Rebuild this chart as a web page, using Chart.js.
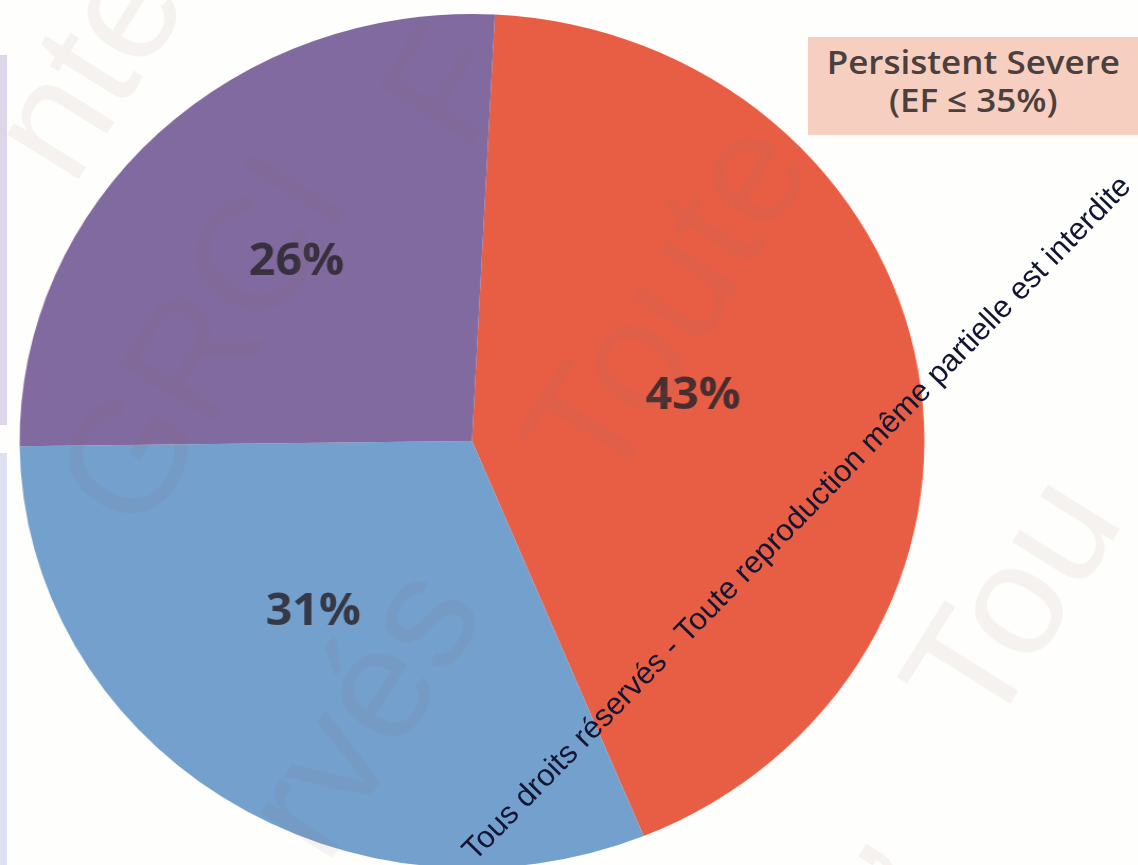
<!DOCTYPE html>
<html>
<head>
<meta charset="utf-8">
<title>Persistent Severe (EF ≤ 35%)</title>
<script src="https://cdn.jsdelivr.net/npm/chart.js@4.4.1/dist/chart.umd.min.js"></script>
<style>
    html, body { margin: 0; padding: 0; background: #fefefc; overflow: hidden; }
    #stage { position: relative; width: 1138px; height: 865px; overflow: hidden; }
    #pie { position: absolute; left: 0; top: 0; }
    .edge { position: absolute; left: 0; width: 7px; }
    .legend-box {
        position: absolute; left: 808px; top: 37px; width: 330px; height: 98px;
        background: #f7cfc1; color: #4a403d; text-align: center;
        font-family: 'Open Sans', sans-serif; font-weight: 600; font-size: 33px; line-height: 38px;
        padding-top: 6px; box-sizing: border-box;
    }
    .legend-box span { display: inline-block; transform: scaleX(1.06); }
    .ghost {
        position: absolute; white-space: nowrap; pointer-events: none;
        font-family: 'Liberation Sans', Arial, sans-serif; font-size: 160px; line-height: 1;
        color: rgba(140, 100, 100, 0.08);
        transform: translate(-50%, -50%) rotate(-58deg);
    }
    #stamp {
        position: absolute; white-space: nowrap; pointer-events: none;
        font-family: 'Liberation Sans', Arial, sans-serif; line-height: 1; color: #121633;
    }
</style>
</head>
<body>
<div id="stage">
    <div class="edge" style="top:55px;height:370px;background:#ddd5e8"></div>
    <div class="edge" style="top:453px;height:412px;background:#dde0ee"></div>
    <!-- drawn at 891 wide, shown at 944: the pie comes out slightly oval -->
    <canvas id="pie" width="891" height="882" style="width:944px;height:882px"></canvas>
    <div class="legend-box"><span>Persistent Severe<br>(EF ≤ 35%)</span></div>
    <div class="ghost" style="left:85px;top:65px">nte</div>
    <div class="ghost" style="left:200px;top:340px">GRCI</div>
    <div class="ghost" style="left:445px;top:85px">F</div>
    <div class="ghost" style="left:665px;top:300px">Toute</div>
    <div class="ghost" style="left:360px;top:710px">rvés</div>
    <div class="ghost" style="left:1010px;top:600px">Tou</div>
    <div class="ghost" style="left:830px;top:830px">,</div>
    <div id="stamp">Tous droits réservés - Toute reproduction même partielle est interdite</div>
</div>
<script>
const categories = ['Persistent Severe (EF ≤ 35%)', 'Group B', 'Group C'];
const shares = [43, 31, 26];
const sliceColors = ['#e85e45', '#73a0cd', '#806a9f'];

// percent labels inside each slice
const sliceLabels = {
    id: 'sliceLabels',
    afterDatasetsDraw(chart, args, opts) {
        const ctx = chart.ctx;
        const meta = chart.getDatasetMeta(0);
        ctx.save();
        ctx.font = opts.font;
        ctx.fillStyle = opts.color;
        ctx.textAlign = 'center';
        ctx.textBaseline = 'middle';
        meta.data.forEach((arc, i) => {
            const p = arc.getProps(['x', 'y', 'startAngle', 'endAngle', 'outerRadius'], true);
            const a = (p.startAngle + p.endAngle) / 2 + opts.angleShift[i] * Math.PI / 180;
            const r = p.outerRadius * opts.radius[i];
            ctx.fillText(shares[i] + '%', p.x + Math.cos(a) * r, p.y + Math.sin(a) * r);
        });
        ctx.restore();
    }
};

new Chart(document.getElementById('pie').getContext('2d'), {
    type: 'pie',
    data: {
        labels: categories,
        datasets: [{
            data: shares,
            backgroundColor: sliceColors,
            borderWidth: 0
        }]
    },
    options: {
        responsive: false,
        animation: false,
        rotation: 2.9,
        layout: { padding: 14 },
        plugins: {
            legend: { display: false },
            tooltip: { enabled: false },
            sliceLabels: {
                font: 'bold 44px "Open Sans", sans-serif',
                color: 'rgba(45, 38, 45, 0.85)',
                radius: [0.50, 0.534, 0.571],
                angleShift: [-2.4, 7.6, 1.1]
            }
        }
    },
    plugins: [sliceLabels]
});

// diagonal notice: sized so it runs from the bottom of the pie to the right edge
const stamp = document.getElementById('stamp');
const start = { x: 475, y: 862 };
const end = { x: 1133, y: 187 };
const span = Math.hypot(end.x - start.x, end.y - start.y);
const angle = Math.atan2(end.y - start.y, end.x - start.x) * 180 / Math.PI;
stamp.style.fontSize = '20px';
const size = 20 * span / stamp.offsetWidth;
stamp.style.fontSize = size + 'px';
const base = size * 0.8465;
stamp.style.left = start.x + 'px';
stamp.style.top = (start.y - base) + 'px';
stamp.style.transformOrigin = '0 ' + base + 'px';
stamp.style.transform = 'rotate(' + angle + 'deg)';
</script>
</body>
</html>
